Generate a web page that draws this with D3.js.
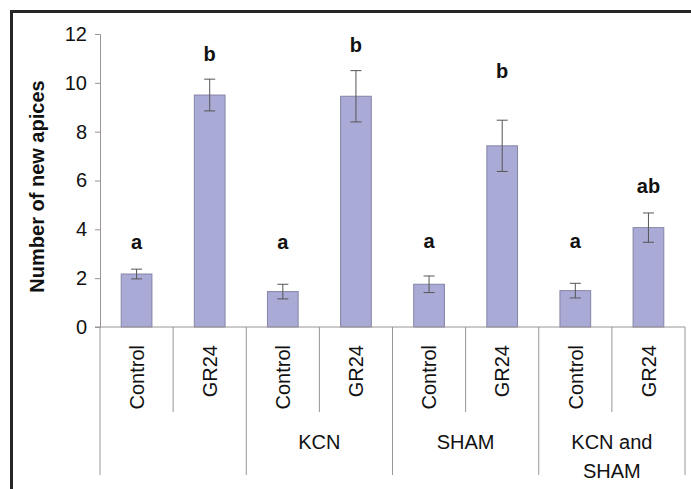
<!DOCTYPE html>
<html>
<head>
<meta charset="utf-8">
<script src="https://cdn.jsdelivr.net/npm/d3@7"></script>
<style>
  body { margin: 0; background: #fff; overflow: hidden; }
  text { font-family: "Liberation Sans", Arial, sans-serif; }
</style>
</head>
<body>
<div class="container"></div>
<script>
// data
var groups = ["", "KCN", "SHAM", "KCN and\nSHAM"];
var treatments = ["Control", "GR24"];
var means = [2.17, 9.5, 1.45, 9.45, 1.75, 7.42, 1.49, 4.07];
var errors = [0.2, 0.65, 0.3, 1.05, 0.34, 1.05, 0.3, 0.6];
var letters = ["a", "b", "a", "b", "a", "b", "a", "ab"];
var letterAt = [3.2, 10.9, 3.2, 11.25, 3.25, 10.2, 3.25, 5.5];
var yTicks = [0, 2, 4, 6, 8, 10, 12];

var loadChart = function(){
    var width = 691, height = 489;
    var left = 100, right = 685, top = 34, bottom = 327;

    var svg = d3.select('.container')
                .append('svg')
                .attr('width', width)
                .attr('height', height)
                .style('display', 'block');

    // outer frame: only the top and left edges are inside the picture
    svg.append('path')
        .attr('d', 'M11.5,' + height + ' V11.5 H' + width)
        .attr('fill', 'none')
        .attr('stroke', '#262626')
        .attr('stroke-width', 3);

    var bars = [];
    groups.forEach(function(g, gi){
        treatments.forEach(function(t, ti){
            var i = gi * 2 + ti;
            bars.push({key: i, group: g, treat: t, mean: means[i], err: errors[i],
                       letter: letters[i], lpos: letterAt[i]});
        });
    });

    var x = d3.scaleBand()
        .domain(bars.map(function(d){ return d.key; }))
        .range([left, right])
        .paddingInner(0.58)
        .paddingOuter(0.29);

    var y = d3.scaleLinear().domain([0, 12]).range([bottom, top]);

    var step = x.step();
    var slot = function(i){ return left + i * step; };

    // y axis
    var yAxis = d3.axisLeft(y).tickValues(yTicks).tickSize(5).tickPadding(8);
    var ya = svg.append('g').attr('transform', 'translate(' + left + ',0)').call(yAxis);
    ya.select('.domain').attr('stroke', '#9a9494');
    ya.selectAll('.tick line').attr('stroke', '#9a9494');
    ya.selectAll('.tick text')
        .attr('font-size', 20)
        .attr('fill', '#111');

    // bars
    svg.selectAll('rect.bar')
        .data(bars)
        .enter()
        .append('rect')
        .attr('class', 'bar')
        .attr('x', function(d){ return x(d.key); })
        .attr('y', function(d){ return y(d.mean); })
        .attr('width', x.bandwidth())
        .attr('height', function(d){ return y(0) - y(d.mean); })
        .attr('fill', '#aaaad6')
        .attr('stroke', '#8484a6')
        .attr('stroke-width', 1);

    // error bars
    var eb = svg.selectAll('g.err')
        .data(bars)
        .enter()
        .append('g')
        .attr('class', 'err')
        .attr('stroke', '#555')
        .attr('stroke-width', 1);
    eb.append('line')
        .attr('x1', function(d){ return x(d.key) + x.bandwidth()/2; })
        .attr('x2', function(d){ return x(d.key) + x.bandwidth()/2; })
        .attr('y1', function(d){ return y(d.mean + d.err); })
        .attr('y2', function(d){ return y(d.mean - d.err); });
    [1, -1].forEach(function(s){
        eb.append('line')
            .attr('x1', function(d){ return x(d.key) + x.bandwidth()/2 - 5.5; })
            .attr('x2', function(d){ return x(d.key) + x.bandwidth()/2 + 5.5; })
            .attr('y1', function(d){ return y(d.mean + s*d.err); })
            .attr('y2', function(d){ return y(d.mean + s*d.err); });
    });

    // significance letters
    svg.selectAll('text.letter')
        .data(bars)
        .enter()
        .append('text')
        .attr('class', 'letter')
        .attr('x', function(d){ return x(d.key) + x.bandwidth()/2; })
        .attr('y', function(d){ return y(d.lpos); })
        .attr('text-anchor', 'middle')
        .attr('font-weight', 'bold')
        .attr('font-size', 20)
        .attr('fill', '#111')
        .text(function(d){ return d.letter; });

    // x axis baseline
    svg.append('line')
        .attr('x1', left - 5).attr('x2', right)
        .attr('y1', bottom).attr('y2', bottom)
        .attr('stroke', '#9a9494');

    // category dividers: short ones inside groups, long ones between groups
    d3.range(bars.length + 1).forEach(function(i){
        svg.append('line')
            .attr('x1', slot(i)).attr('x2', slot(i))
            .attr('y1', bottom)
            .attr('y2', i % 2 === 0 ? 475 : 412)
            .attr('stroke', '#9a9494');
    });

    // treatment labels (rotated)
    svg.selectAll('text.cat')
        .data(bars)
        .enter()
        .append('text')
        .attr('class', 'cat')
        .attr('transform', function(d){
            return 'translate(' + (x(d.key) + x.bandwidth()/2) + ',345) rotate(-90)';
        })
        .attr('dy', '0.36em')
        .attr('text-anchor', 'end')
        .attr('font-size', 20)
        .attr('fill', '#111')
        .text(function(d){ return d.treat; });

    // group labels
    groups.forEach(function(g, gi){
        var t = svg.append('text')
            .attr('x', slot(gi * 2 + 1))
            .attr('y', 449)
            .attr('text-anchor', 'middle')
            .attr('font-size', 20)
            .attr('fill', '#111');
        g.split('\n').forEach(function(line, li){
            t.append('tspan')
                .attr('x', slot(gi * 2 + 1))
                .attr('dy', li === 0 ? 0 : 29)
                .text(line);
        });
    });

    // y axis title
    svg.append('text')
        .attr('transform', 'translate(44,' + ((top + bottom) / 2 + 6) + ') rotate(-90)')
        .attr('text-anchor', 'middle')
        .attr('font-weight', 'bold')
        .attr('font-size', 20)
        .attr('fill', '#111')
        .text('Number of new apices');
}
window.onload = loadChart;
</script>
</body>
</html>
